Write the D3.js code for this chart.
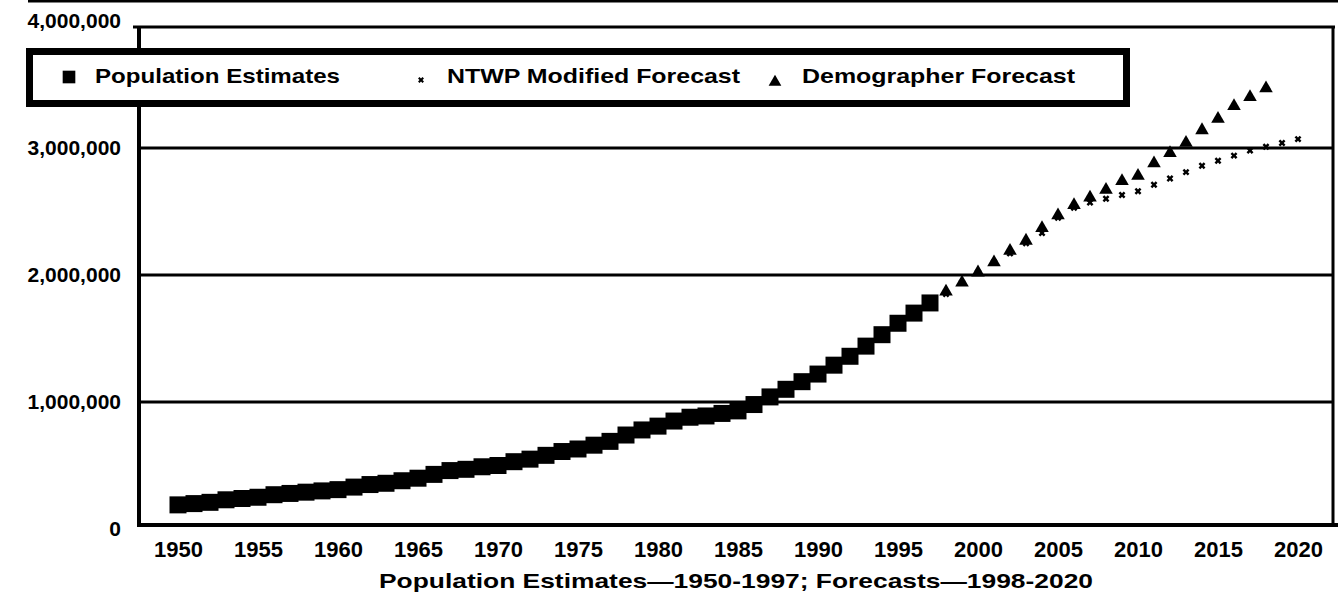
<!DOCTYPE html>
<html>
<head>
<meta charset="utf-8">
<script src="https://cdn.jsdelivr.net/npm/d3@7"></script>
<style>
  html, body { margin: 0; padding: 0; background: #fff; }
  svg { display: block; }
  text { font-family: "Liberation Sans", Arial, sans-serif; font-weight: bold; fill: #000; }
</style>
</head>
<body>
<div id="chart"></div>
<script>
// Population estimates (annual, 1950-1997), in persons
const estYears = d3.range(1950, 1998);
const estValues = [
  190000, 200000, 210000, 230000, 240000, 250000, 270000, 280000, 290000, 300000,
  310000, 330000, 350000, 360000, 380000, 400000, 430000, 460000, 470000, 490000,
  500000, 530000, 550000, 580000, 610000, 630000, 660000, 690000, 740000, 780000,
  810000, 850000, 880000, 890000, 910000, 930000, 980000, 1040000, 1100000, 1160000,
  1220000, 1290000, 1360000, 1440000, 1530000, 1620000, 1700000, 1780000
];

// NTWP modified forecast (1998-2020)
const ntwpYears = d3.range(1998, 2021);
const ntwpValues = [
  1850000, 1940000, 2020000, 2100000, 2170000, 2250000, 2330000, 2450000, 2530000, 2570000,
  2600000, 2630000, 2660000, 2710000, 2760000, 2810000, 2860000, 2900000, 2940000, 2980000,
  3010000, 3040000, 3070000
];

// Demographer forecast (1998-2018 visible)
const demoYears = d3.range(1998, 2019);
const demoValues = [
  1870000, 1940000, 2020000, 2100000, 2190000, 2270000, 2370000, 2470000, 2550000, 2610000,
  2670000, 2740000, 2780000, 2880000, 2960000, 3040000, 3140000, 3230000, 3330000, 3400000,
  3470000
];

const xTicks = d3.range(1950, 2021, 5);
const yTicks = [0, 1000000, 2000000, 3000000, 4000000];
const gridValues = [1000000, 2000000, 3000000];

const seriesNames = ['Population Estimates', 'NTWP Modified Forecast', 'Demographer Forecast'];
const xTitle = 'Population Estimates\u20141950-1997; Forecasts\u20141998-2020';

const W = 1338, H = 595;
const frame = { left: 139, top: 27, right: 1333, bottom: 525 };

const x = d3.scaleLinear().domain([1950, 2020]).range([178, 1298]);
const y = d3.scaleLinear().domain([0, 4000000]).range([529, 21]);

const svg = d3.select('#chart').append('svg').attr('width', W).attr('height', H);

// scan page border at the very top
svg.append('line').attr('x1', 28).attr('x2', W).attr('y1', 1).attr('y2', 1)
  .attr('stroke', '#000').attr('stroke-width', 3);

// gridlines
svg.append('g').selectAll('line').data(gridValues).join('line')
  .attr('x1', frame.left).attr('x2', frame.right)
  .attr('y1', d => y(d)).attr('y2', d => y(d))
  .attr('stroke', '#000').attr('stroke-width', 3);

// series
const sq = d3.symbol().type(d3.symbolSquare).size(289);
const tri = d3.symbol().type(d3.symbolTriangle).size(80);
const crs = d3.symbol().type(d3.symbolCross).size(30);

svg.append('g').selectAll('path').data(estYears).join('path')
  .attr('d', sq)
  .attr('transform', (d, i) => `translate(${x(d)},${y(estValues[i])})`)
  .attr('fill', '#000');

svg.append('g').selectAll('path').data(ntwpYears).join('path')
  .attr('d', crs)
  .attr('transform', (d, i) => `translate(${x(d)},${y(ntwpValues[i])}) rotate(45)`)
  .attr('fill', '#000');

svg.append('g').selectAll('path').data(demoYears).join('path')
  .attr('d', tri)
  .attr('transform', (d, i) => `translate(${x(d)},${y(demoValues[i])})`)
  .attr('fill', '#000');

// frame
svg.append('line').attr('x1', frame.left).attr('x2', frame.left)
  .attr('y1', frame.top - 1).attr('y2', frame.bottom + 2)
  .attr('stroke', '#000').attr('stroke-width', 4);
svg.append('line').attr('x1', frame.left - 6).attr('x2', frame.right + 2)
  .attr('y1', frame.top).attr('y2', frame.top)
  .attr('stroke', '#000').attr('stroke-width', 3);
svg.append('line').attr('x1', frame.right).attr('x2', frame.right)
  .attr('y1', frame.top).attr('y2', frame.bottom)
  .attr('stroke', '#000').attr('stroke-width', 3);
svg.append('line').attr('x1', frame.left).attr('x2', W)
  .attr('y1', frame.bottom).attr('y2', frame.bottom)
  .attr('stroke', '#000').attr('stroke-width', 4);

// y axis labels
const yAxis = d3.axisLeft(y).tickValues(yTicks).tickSize(0).tickPadding(0)
  .tickFormat(d3.format(','));
const gy = svg.append('g').attr('transform', 'translate(121,0)').call(yAxis);
gy.select('.domain').remove();
gy.selectAll('text').attr('font-size', 21).attr('font-family', null)
  .style('font-family', '"Liberation Sans", Arial, sans-serif').style('font-weight', 'bold');

// x axis labels
const xAxis = d3.axisBottom(x).tickValues(xTicks).tickSize(0).tickPadding(0)
  .tickFormat(d3.format('d'));
const gx = svg.append('g').attr('transform', 'translate(0,541)').call(xAxis);
gx.select('.domain').remove();
gx.selectAll('text').attr('font-size', 22).attr('font-family', null)
  .style('font-family', '"Liberation Sans", Arial, sans-serif').style('font-weight', 'bold');

// x title
svg.append('text').attr('x', 379).attr('y', 588)
  .attr('font-size', 21).attr('textLength', 714).attr('lengthAdjust', 'spacingAndGlyphs')
  .text(xTitle);

// legend
const lg = svg.append('g');
lg.append('rect').attr('x', 29.5).attr('y', 51.5).attr('width', 1097).attr('height', 52)
  .attr('fill', '#fff').attr('stroke', '#000').attr('stroke-width', 7);

const legendItems = [
  { name: seriesNames[0], sym: d3.symbol().type(d3.symbolSquare).size(160), mx: 69, my: 77, rot: 0, tx: 95, tw: 245 },
  { name: seriesNames[1], sym: d3.symbol().type(d3.symbolCross).size(22), mx: 421, my: 80, rot: 45, tx: 447, tw: 293 },
  { name: seriesNames[2], sym: d3.symbol().type(d3.symbolTriangle).size(70), mx: 775, my: 82, rot: 0, tx: 802, tw: 273 }
];
legendItems.forEach(it => {
  lg.append('path').attr('d', it.sym)
    .attr('transform', `translate(${it.mx},${it.my}) rotate(${it.rot})`)
    .attr('fill', '#000');
  lg.append('text').attr('x', it.tx).attr('y', 83)
    .attr('font-size', 21).attr('textLength', it.tw).attr('lengthAdjust', 'spacingAndGlyphs')
    .text(it.name);
});
</script>
</body>
</html>
